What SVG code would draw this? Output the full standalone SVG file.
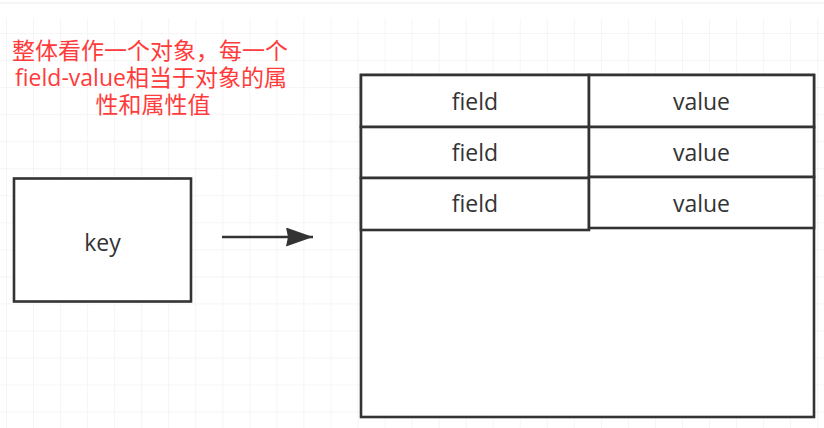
<svg xmlns="http://www.w3.org/2000/svg" width="824" height="428" viewBox="0 0 824 428">
  <defs>
    <pattern id="grid" x="6" y="6" width="27.04" height="27.04" patternUnits="userSpaceOnUse">
      <path d="M0 0V27.04M0 0H27.04" fill="none" stroke="#ebebeb" stroke-width="1"/>
    </pattern>
    <marker id="arrow" markerWidth="28" markerHeight="20" refX="27" refY="9.5" orient="auto" markerUnits="userSpaceOnUse">
      <path d="M0 0 L27 9.5 L0 19 L2 9.5 Z" fill="#333"/>
    </marker>
  </defs>
  <style>
    .box { fill: #ffffff; stroke: #333333; stroke-width: 2.6; }
    .lbl { font-family: "Open Sans", "Liberation Sans", sans-serif; font-size: 23px; fill: #333333; text-anchor: middle; }
    .note { font-family: "Open Sans", "Noto Sans CJK SC", sans-serif; font-size: 23px; fill: #ff3b3b; text-anchor: middle; }
    .conn { stroke: #333333; stroke-width: 2.6; fill: none; }
  </style>
  <rect width="824" height="428" fill="#ffffff"/>
  <rect x="0" y="18" width="824" height="410" fill="url(#grid)"/>
  <line x1="0" y1="3" x2="824" y2="3" stroke="#ebebeb" stroke-width="1"/>

  <g id="note">
    <text class="note" x="150" y="59">整体看作一个对象，每一个</text>
    <text class="note" x="151" y="86">field-value相当于对象的属</text>
    <text class="note" x="153" y="113">性和属性值</text>
  </g>

  <g id="key">
    <rect class="box" x="14" y="178.5" width="177" height="123"/>
    <text class="lbl" x="102.5" y="251">key</text>
  </g>

  <g id="hash">
    <rect class="box" x="361" y="75" width="453" height="342"/>
  </g>
  <g id="field1">
    <rect class="box" x="361" y="75" width="228" height="52"/>
    <text class="lbl" x="475" y="110">field</text>
  </g>
  <g id="value1">
    <rect class="box" x="589" y="75" width="225" height="52"/>
    <text class="lbl" x="701.5" y="110">value</text>
  </g>
  <g id="field2">
    <rect class="box" x="361" y="127" width="228" height="51"/>
    <text class="lbl" x="475" y="161">field</text>
  </g>
  <g id="value2">
    <rect class="box" x="589" y="127" width="225" height="50"/>
    <text class="lbl" x="701.5" y="161">value</text>
  </g>
  <g id="field3">
    <rect class="box" x="361" y="178" width="228" height="52"/>
    <text class="lbl" x="475" y="212">field</text>
  </g>
  <g id="value3">
    <rect class="box" x="589" y="177" width="225" height="51"/>
    <text class="lbl" x="701.5" y="212">value</text>
  </g>

  <g id="connectors">
    <line class="conn" x1="222" y1="237" x2="313" y2="237" marker-end="url(#arrow)"/>
  </g>
</svg>
